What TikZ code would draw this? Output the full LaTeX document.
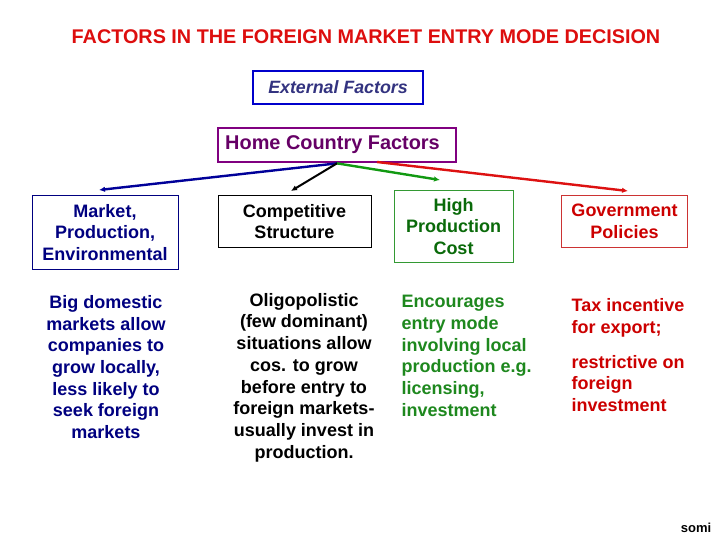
\documentclass[tikz,border=0pt]{standalone}
\usepackage{fontspec}
\setmainfont{Liberation Sans}
\usetikzlibrary{arrows.meta}
\definecolor{ttlred}{HTML}{DD0E0E}
\definecolor{extblue}{HTML}{0000CC}
\definecolor{exttext}{HTML}{333380}
\definecolor{homepurple}{HTML}{800080}
\definecolor{hometext}{HTML}{660066}
\definecolor{navy}{HTML}{000080}
\definecolor{arrblue}{HTML}{000099}
\definecolor{grnbox}{HTML}{339933}
\definecolor{grntext}{HTML}{0A6A0A}
\definecolor{grnlow}{HTML}{1E881E}
\definecolor{arrgreen}{HTML}{119911}
\definecolor{redbox}{HTML}{CC3333}
\definecolor{redtext}{HTML}{CC0000}
\definecolor{arrred}{HTML}{DD1111}
\begin{document}
\begin{tikzpicture}[x=1pt,y=-1pt,
  txt/.style={inner sep=0pt, font=\bfseries\fontsize{18}{21.7}\selectfont},
  box/.style={txt, draw, line width=1pt, align=center},
  conn/.style={line width=2.4pt, -{Latex[length=6pt,width=5.5pt]}}]
\fill[white] (0,0) rectangle (720,540);
\useasboundingbox (0,0) rectangle (720,540);

\node[txt, text=ttlred, font=\bfseries\fontsize{19.8}{22}\selectfont] (title) at (366,37) {FACTORS IN THE FOREIGN MARKET ENTRY MODE DECISION};

\node[box, draw=extblue, line width=2.7pt, text=exttext, minimum width=170, minimum height=33,
  font=\bfseries\itshape\fontsize{17.8}{21}\selectfont] (ext) at (338,87.5) {External Factors};

\node[box, draw=homepurple, line width=2.7pt, text=hometext, minimum width=238, minimum height=34,
  font=\bfseries\fontsize{19.9}{22}\selectfont] (home) at (337,145) {Home Country Factors\hspace*{9pt}};

\node[box, draw=navy, text=navy, minimum width=146, minimum height=73] (market) at (105,232.5) {Market,\\Production,\\Environmental};
\node[box, draw=black, text=black, minimum width=153, minimum height=51] (comp) at (294.5,221.5) {Competitive\\Structure};
\node[box, draw=grnbox, text=grntext, minimum width=119, minimum height=72] (high) at (453.5,226.5) {High\\Production\\Cost};
\node[box, draw=redbox, text=redtext, minimum width=126, minimum height=51] (gov) at (624.5,221.5) {Government\\Policies};

\coordinate (bluetip) at (99,190);
\coordinate (blacktip) at (291,191);
\coordinate (greentip) at (440,180);
\coordinate (redstart) at (377,162);
\coordinate (redtip) at (628,191);

\draw[conn, arrblue] (home.south) -- (bluetip);
\draw[conn, arrgreen] (home.south) -- (greentip);
\draw[conn, arrred] (redstart) -- (redtip);
\draw[conn, black, line width=2pt] (home.south) -- (blacktip);

\node[txt, text=navy, align=center] (marketd) at (106,367) {Big domestic\\markets allow\\companies to\\grow locally,\\less likely to\\seek foreign\\markets};
\node[txt, text=black, align=center] (compd) at (304,377.5) {Oligopolistic\\(few dominant)\\situations allow\\cos. to grow\\before entry to\\foreign markets-\\usually invest in\\production.};
\node[txt, text=grnlow, align=left, anchor=west] (highd) at (401.5,356) {Encourages\\entry mode\\involving local\\production e.g.\\licensing,\\investment};
\node[txt, text=redtext, align=left, anchor=west] (govd1) at (571.5,318) {Tax incentive\\for export;};
\node[txt, text=redtext, align=left, anchor=west] (govd2) at (571.5,383.5) {restrictive on\\foreign\\investment};

\node[txt, text=black, font=\bfseries\fontsize{13}{15}\selectfont] (somi) at (696,528) {somi};
\end{tikzpicture}
\end{document}
